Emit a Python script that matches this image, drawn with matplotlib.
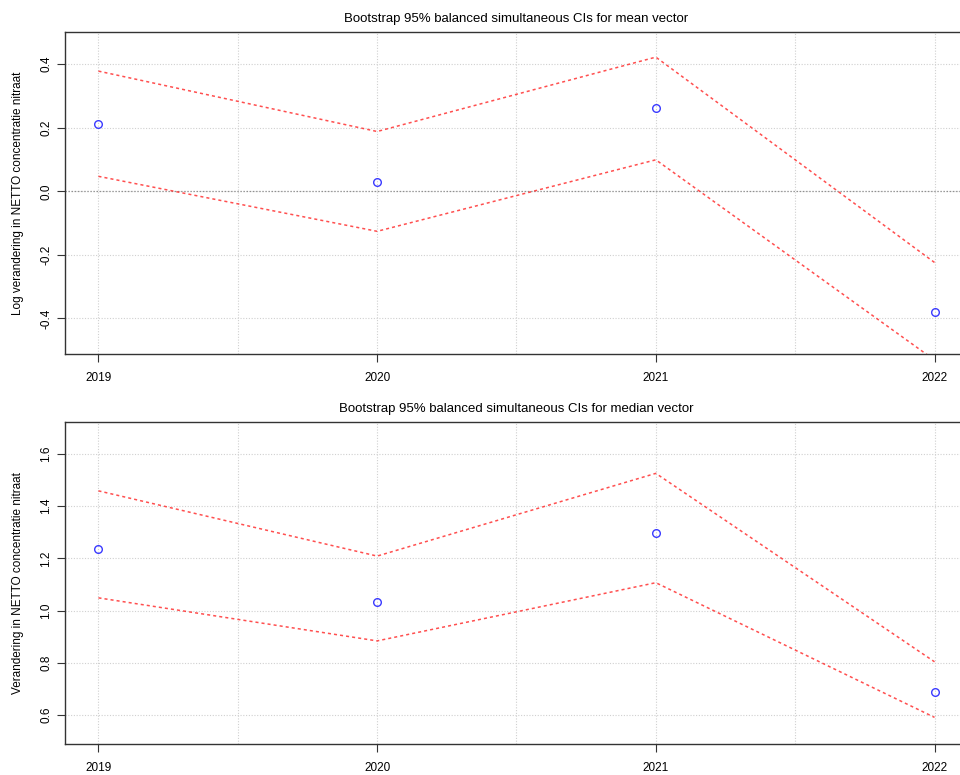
import numpy as np
import matplotlib
matplotlib.use('Agg')
import matplotlib.pyplot as plt

plt.rcParams['font.family'] = ['Liberation Sans', 'DejaVu Sans']

jaren = [2019, 2020, 2021, 2022]

# bovenste paneel: log verandering (mean vector)
mean_punt = [0.212, 0.030, 0.261, -0.379]
mean_boven = [0.378, 0.188, 0.422, -0.224]
mean_onder = [0.047, -0.126, 0.099, -0.531]

# onderste paneel: verandering (median vector)
med_punt = [1.237, 1.033, 1.298, 0.687]
med_boven = [1.459, 1.209, 1.526, 0.804]
med_onder = [1.049, 0.884, 1.107, 0.591]

titels = ['Bootstrap 95% balanced simultaneous CIs for mean vector',
          'Bootstrap 95% balanced simultaneous CIs for median vector']
ylabels = ['Log verandering in NETTO concentratie nitraat',
           'Verandering in NETTO concentratie nitraat']
yticks = [[-0.4, -0.2, 0.0, 0.2, 0.4], [0.6, 0.8, 1.0, 1.2, 1.4, 1.6]]
ylims = [(-0.512, 0.502), (0.489, 1.724)]

fig = plt.figure(figsize=(9.6, 7.75), dpi=100)
ax1 = fig.add_axes([0.0677, 0.5432, 0.9406, 0.4159])
ax2 = fig.add_axes([0.0677, 0.0400, 0.9406, 0.4159])

data = [(mean_punt, mean_boven, mean_onder), (med_punt, med_boven, med_onder)]

for i, ax in enumerate([ax1, ax2]):
    punt, boven, onder = data[i]
    ax.set_xlim(2018.88, 2022.12)
    ax.set_ylim(*ylims[i])
    # grid
    for gx in np.arange(2019, 2022.01, 0.5):
        ax.axvline(gx, color='#d0d0d0', lw=0.8, ls=(0, (1, 1.5)), zorder=0)
    for gy in yticks[i]:
        ax.axhline(gy, color='#d0d0d0', lw=0.8, ls=(0, (1, 1.5)), zorder=0)
    if i == 0:
        ax.axhline(0, color='#909090', lw=0.9, ls=(0, (1, 1.5)), zorder=1)
    ax.plot(jaren, boven, color='#ff3030', lw=1.1, ls=(0, (2, 2)), alpha=0.85)
    ax.plot(jaren, onder, color='#ff3030', lw=1.1, ls=(0, (2, 2)), alpha=0.85)
    ax.plot(jaren, punt, 'o', mfc='none', mec='#3a3aff', ms=5.5, mew=1.0)
    ax.set_xticks(jaren)
    ax.set_xticklabels([str(j) for j in jaren], fontsize=8.5)
    ax.set_yticks(yticks[i])
    ax.set_yticklabels([f'{v:.1f}' for v in yticks[i]], fontsize=8.5,
                       rotation=90, va='center')
    ax.tick_params(axis='both', direction='out', length=6, width=0.8,
                   color='#333333')
    ax.tick_params(axis='x', pad=7)
    ax.tick_params(axis='y', pad=3)
    for s in ax.spines.values():
        s.set_color('#333333')
        s.set_linewidth(1.0)
    ax.set_title(titels[i], fontsize=9.5, pad=7)
    ax.set_ylabel(ylabels[i], fontsize=8.5, labelpad=12)

fig.savefig('out.png', dpi=100)
